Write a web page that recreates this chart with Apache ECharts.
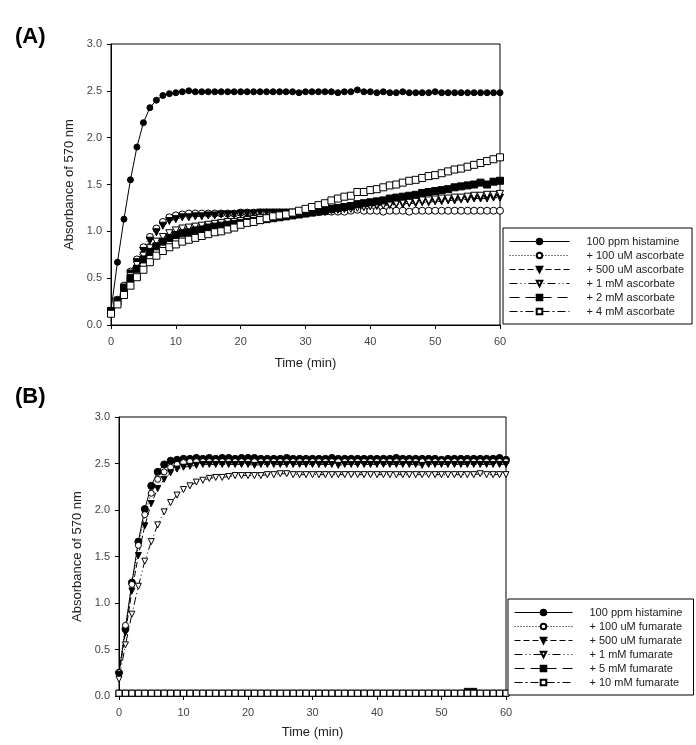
<!DOCTYPE html>
<html><head><meta charset="utf-8">
<script src="https://cdn.jsdelivr.net/npm/echarts@6/dist/echarts.min.js"></script>
<style>html,body{margin:0;padding:0;background:#fff}#c{width:696px;height:745px}</style>
</head><body><div id="c"></div>
<script>
const time = [0,1,2,3,4,5,6,7,8,9,10,11,12,13,14,15,16,17,18,19,20,21,22,23,24,25,26,27,28,29,30,31,32,33,34,35,36,37,38,39,40,41,42,43,44,45,46,47,48,49,50,51,52,53,54,55,56,57,58,59,60];
const yTicks = [0.0,0.5,1.0,1.5,2.0,2.5,3.0];
const xTicks = [0,10,20,30,40,50,60];

const namesA = ["100 ppm histamine","+ 100 uM ascorbate","+ 500 uM ascorbate","+ 1 mM ascorbate","+ 2 mM ascorbate","+ 4 mM ascorbate"];
const namesB = ["100 ppm histamine ","+ 100 uM fumarate","+ 500 uM fumarate","+ 1 mM fumarate","+ 5 mM fumarate","+ 10 mM fumarate"];

const histA = [0.16,0.67,1.13,1.55,1.90,2.16,2.32,2.40,2.45,2.47,2.48,2.49,2.50,2.49,2.49,2.49,2.49,2.49,2.49,2.49,2.49,2.49,2.49,2.49,2.49,2.49,2.49,2.49,2.49,2.48,2.49,2.49,2.49,2.49,2.49,2.48,2.49,2.49,2.51,2.49,2.49,2.48,2.49,2.48,2.48,2.49,2.48,2.48,2.48,2.48,2.49,2.48,2.48,2.48,2.48,2.48,2.48,2.48,2.48,2.48,2.48];
const asc100 = [0.15,0.27,0.42,0.57,0.70,0.83,0.94,1.03,1.10,1.15,1.17,1.18,1.19,1.19,1.19,1.19,1.19,1.19,1.19,1.19,1.20,1.20,1.20,1.20,1.20,1.20,1.20,1.20,1.20,1.20,1.21,1.21,1.21,1.21,1.21,1.21,1.21,1.22,1.23,1.22,1.22,1.22,1.21,1.22,1.22,1.22,1.21,1.22,1.22,1.22,1.22,1.22,1.22,1.22,1.22,1.22,1.22,1.22,1.22,1.22,1.22];
const asc500 = [0.15,0.26,0.40,0.55,0.67,0.79,0.90,0.99,1.06,1.11,1.13,1.15,1.15,1.16,1.16,1.17,1.17,1.18,1.18,1.18,1.19,1.19,1.19,1.20,1.20,1.20,1.20,1.20,1.20,1.21,1.21,1.21,1.22,1.22,1.23,1.23,1.24,1.25,1.26,1.26,1.27,1.27,1.28,1.28,1.29,1.29,1.30,1.30,1.31,1.31,1.32,1.32,1.33,1.33,1.34,1.34,1.35,1.35,1.35,1.36,1.36];
const asc1m = [0.14,0.25,0.38,0.52,0.64,0.74,0.82,0.89,0.94,0.98,1.01,1.03,1.04,1.05,1.06,1.07,1.08,1.09,1.10,1.10,1.11,1.12,1.13,1.14,1.14,1.15,1.16,1.17,1.17,1.18,1.19,1.20,1.20,1.21,1.22,1.23,1.24,1.24,1.25,1.26,1.27,1.28,1.28,1.29,1.30,1.31,1.31,1.32,1.33,1.33,1.34,1.35,1.35,1.36,1.36,1.37,1.38,1.38,1.39,1.39,1.40];
const asc2m = [0.14,0.25,0.38,0.50,0.60,0.70,0.78,0.84,0.89,0.93,0.96,0.98,0.99,1.01,1.02,1.04,1.05,1.06,1.07,1.08,1.09,1.10,1.11,1.12,1.13,1.14,1.15,1.16,1.17,1.18,1.19,1.20,1.21,1.22,1.24,1.25,1.26,1.27,1.29,1.30,1.31,1.32,1.33,1.35,1.36,1.37,1.38,1.39,1.41,1.42,1.43,1.44,1.45,1.47,1.48,1.49,1.50,1.52,1.50,1.53,1.54];
const asc4m = [0.12,0.22,0.32,0.42,0.51,0.59,0.67,0.74,0.79,0.83,0.86,0.89,0.91,0.93,0.95,0.97,0.99,1.00,1.02,1.04,1.07,1.09,1.10,1.12,1.14,1.16,1.17,1.18,1.20,1.22,1.24,1.26,1.28,1.30,1.33,1.35,1.37,1.38,1.42,1.42,1.44,1.45,1.47,1.49,1.50,1.52,1.54,1.55,1.57,1.59,1.60,1.62,1.64,1.66,1.67,1.69,1.71,1.73,1.75,1.77,1.79];

const histB = [0.25,0.72,1.22,1.66,2.01,2.26,2.41,2.49,2.53,2.54,2.55,2.55,2.56,2.55,2.56,2.55,2.56,2.56,2.55,2.56,2.56,2.56,2.55,2.55,2.55,2.55,2.56,2.55,2.55,2.55,2.55,2.55,2.55,2.56,2.55,2.55,2.55,2.55,2.55,2.55,2.55,2.55,2.55,2.56,2.55,2.55,2.55,2.55,2.55,2.55,2.54,2.55,2.55,2.55,2.55,2.55,2.55,2.55,2.55,2.56,2.54];
const fum100 = [0.25,0.76,1.20,1.62,1.95,2.18,2.33,2.41,2.46,2.49,2.51,2.52,2.52,2.52,2.52,2.52,2.52,2.52,2.52,2.52,2.52,2.52,2.52,2.52,2.52,2.52,2.52,2.52,2.52,2.52,2.52,2.52,2.52,2.52,2.52,2.52,2.52,2.52,2.52,2.52,2.52,2.52,2.52,2.52,2.52,2.52,2.52,2.52,2.52,2.52,2.52,2.52,2.52,2.52,2.52,2.52,2.52,2.52,2.52,2.52,2.52];
const fum500 = [0.23,0.68,1.13,1.51,1.83,2.07,2.23,2.33,2.40,2.44,2.46,2.47,2.48,2.49,2.49,2.49,2.49,2.49,2.49,2.49,2.49,2.48,2.49,2.49,2.49,2.49,2.49,2.49,2.49,2.49,2.49,2.49,2.49,2.49,2.48,2.49,2.49,2.49,2.49,2.49,2.49,2.49,2.49,2.49,2.49,2.49,2.49,2.48,2.49,2.49,2.49,2.49,2.49,2.49,2.49,2.49,2.49,2.49,2.49,2.49,2.49];
const fum1m = [0.18,0.55,0.88,1.18,1.45,1.66,1.84,1.98,2.08,2.16,2.22,2.26,2.30,2.32,2.34,2.35,2.35,2.36,2.37,2.37,2.37,2.37,2.37,2.38,2.38,2.39,2.39,2.38,2.38,2.38,2.38,2.38,2.38,2.38,2.38,2.38,2.38,2.38,2.38,2.38,2.38,2.38,2.38,2.38,2.38,2.38,2.38,2.38,2.38,2.38,2.38,2.38,2.38,2.38,2.38,2.38,2.39,2.38,2.38,2.38,2.38];
const fum5m = [0.03,0.03,0.03,0.03,0.03,0.03,0.03,0.03,0.03,0.03,0.03,0.03,0.03,0.03,0.03,0.03,0.03,0.03,0.03,0.03,0.03,0.03,0.03,0.03,0.03,0.03,0.03,0.03,0.03,0.03,0.03,0.03,0.03,0.03,0.03,0.03,0.03,0.03,0.03,0.03,0.03,0.03,0.03,0.03,0.03,0.03,0.03,0.03,0.03,0.03,0.03,0.03,0.03,0.03,0.05,0.05,0.03,0.03,0.03,0.03,0.03];
const fum10m = [0.03,0.03,0.03,0.03,0.03,0.03,0.03,0.03,0.03,0.03,0.03,0.03,0.03,0.03,0.03,0.03,0.03,0.03,0.03,0.03,0.03,0.03,0.03,0.03,0.03,0.03,0.03,0.03,0.03,0.03,0.03,0.03,0.03,0.03,0.03,0.03,0.03,0.03,0.03,0.03,0.03,0.03,0.03,0.03,0.03,0.03,0.03,0.03,0.03,0.03,0.03,0.03,0.03,0.03,0.03,0.03,0.03,0.03,0.03,0.03,0.03];

const FONT = "'Liberation Sans', Arial, sans-serif";
const styles = [
  {symbol:'circle', fill:'#000', dash:'solid', rot:0},
  {symbol:'circle', fill:'#fff', dash:[1,2], rot:0},
  {symbol:'triangle', fill:'#000', dash:[6,3], rot:180},
  {symbol:'triangle', fill:'#fff', dash:[8,3,1,3,1,3], rot:180},
  {symbol:'rect', fill:'#000', dash:[10,6], rot:0},
  {symbol:'rect', fill:'#fff', dash:[8,3,2,3], rot:0}
];
function mk(name, vals, i, idx, size) {
  const s = styles[i];
  return {
    name: name, type:'line', xAxisIndex: idx, yAxisIndex: idx,
    data: time.map((t,k)=>[t, vals[k]]),
    symbol: s.symbol, symbolRotate: s.rot, symbolSize: size,
    showAllSymbol: true, animation:false,
    lineStyle:{color:'#000', width:1, type:s.dash},
    itemStyle:{color:s.fill, borderColor:'#000', borderWidth:1, opacity:1},
    emphasis:{disabled:true}
  };
}
const seriesA = [histA, asc100, asc500, asc1m, asc2m, asc4m];
const seriesB = [histB, fum100, fum500, fum1m, fum5m, fum10m];
const series = [];
seriesA.forEach((v,i)=>series.push(mk(namesA[i], v, i, 0, i===0?6:7)));
seriesB.forEach((v,i)=>series.push(mk(namesB[i], v, i, 1, i===0?7:6)));

function xAx(idx, gap){
  return {type:'value', gridIndex:idx, min:xTicks[0], max:xTicks[xTicks.length-1], interval:10,
    name:'Time (min)', nameLocation:'middle', nameGap:gap,
    nameTextStyle:{color:'#222', fontSize:13, fontFamily:FONT},
    axisLine:{show:true, lineStyle:{color:'#000', width:1}},
    axisTick:{show:true, inside:false, length:4, lineStyle:{color:'#000'}},
    axisLabel:{color:'#444', fontSize:11, fontFamily:FONT, margin:11},
    splitLine:{show:false}};
}
function yAx(idx, gap){
  return {type:'value', gridIndex:idx, min:yTicks[0], max:yTicks[yTicks.length-1], interval:0.5,
    name:'Absorbance of 570 nm', nameLocation:'middle', nameGap:gap,
    nameTextStyle:{color:'#222', fontSize:13, fontFamily:FONT},
    axisLine:{show:true, lineStyle:{color:'#000', width:1}},
    axisTick:{show:true, inside:false, length:4, lineStyle:{color:'#000'}},
    axisLabel:{color:'#444', fontSize:11, fontFamily:FONT, margin:9, formatter:v=>v.toFixed(1)},
    splitLine:{show:false}};
}
function lg(names, left, top, iw){
  return {data:names, orient:'vertical', left:left, top:top, itemWidth:iw, itemHeight:7, itemGap:3,
    padding:[8,8,7,6], borderColor:'#000', borderWidth:1, backgroundColor:'#fff',
    selectedMode:false,
    lineStyle:{width:1},
    textStyle:{color:'#222', fontSize:11, fontFamily:FONT, padding:[0,0,0,12]}};
}

const chart = echarts.init(document.getElementById('c'), null, {renderer:'canvas'});
chart.setOption({
  backgroundColor:'#fff',
  animation:false,
  grid:[
    {left:111, top:44, width:389, height:281, show:true, borderColor:'#000', borderWidth:1, backgroundColor:'transparent'},
    {left:119, top:417, width:387, height:279, show:true, borderColor:'#000', borderWidth:1, backgroundColor:'transparent'}
  ],
  xAxis:[xAx(0,32), xAx(1,30)],
  yAxis:[yAx(0,34), yAx(1,33)],
  legend:[lg(namesA, 503, 228, 60), lg(namesB, 508, 599, 58)],
  graphic:[
    {type:'text', left:15, top:26, style:{text:'(A)', fontSize:22, fontWeight:'bold', fontFamily:"'Liberation Sans', Arial, sans-serif", fill:'#000'}},
    {type:'text', left:15, top:386, style:{text:'(B)', fontSize:22, fontWeight:'bold', fontFamily:"'Liberation Sans', Arial, sans-serif", fill:'#000'}}
  ],
  series:series
});
</script></body></html>
